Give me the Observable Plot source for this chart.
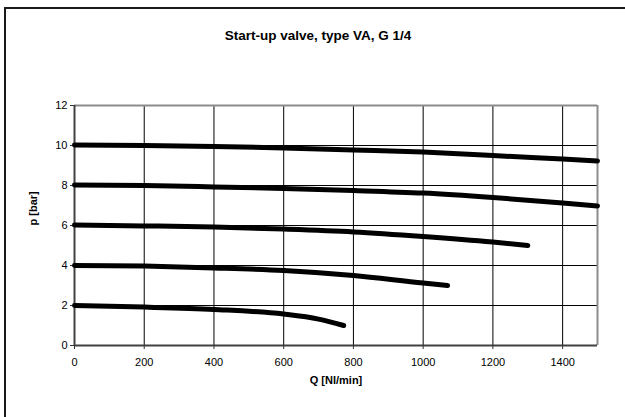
<!DOCTYPE html>
<html>
<head>
<meta charset="utf-8">
<script src="https://cdn.jsdelivr.net/npm/d3@7"></script>
<script src="https://cdn.jsdelivr.net/npm/@observablehq/plot@0.6"></script>
<style>
  html, body { margin: 0; padding: 0; background: #fff; overflow: hidden; }
  #wrap { position: relative; width: 625px; height: 417px; overflow: hidden; }
  #frame { position: absolute; left: 4px; top: 7px; width: 700px; height: 500px;
           border-top: 2px solid #1a1a1a; border-left: 2px solid #1a1a1a; }
  #chart { position: absolute; left: 0; top: 0; }
</style>
</head>
<body>
<div id="wrap"><div id="frame"></div><div id="chart"></div></div>
<script>
const title = "Start-up valve, type VA, G 1/4";
const xLabel = "Q [Nl/min]";
const yLabel = "p [bar]";
const xTicks = [0, 200, 400, 600, 800, 1000, 1200, 1400];
const yTicks = [0, 2, 4, 6, 8, 10, 12];

// Curves (Q in Nl/min, p in bar)
const q10 = [0, 200, 400, 600, 800, 1000, 1200, 1400, 1500];
const p10 = [10.02, 10.0, 9.95, 9.88, 9.78, 9.67, 9.5, 9.32, 9.23];
const q8 = [0, 200, 400, 600, 800, 1000, 1200, 1400, 1500];
const p8 = [8.02, 8.0, 7.93, 7.85, 7.75, 7.62, 7.4, 7.13, 6.98];
const q6 = [0, 200, 400, 600, 800, 1000, 1200, 1300];
const p6 = [6.02, 5.98, 5.92, 5.82, 5.68, 5.45, 5.17, 5.0];
const q4 = [0, 200, 400, 600, 800, 1000, 1070];
const p4 = [4.0, 3.97, 3.88, 3.75, 3.5, 3.12, 3.0];
const q2 = [0, 200, 400, 600, 700, 772];
const p2 = [2.0, 1.92, 1.8, 1.57, 1.32, 1.0];

const series = [["10", q10, p10], ["8", q8, p8], ["6", q6, p6], ["4", q4, p4], ["2", q2, p2]];
const data = series.flatMap(([s, qs, ps]) => qs.map((q, i) => ({s, q, p: ps[i]})));

const chart = Plot.plot({
  width: 625,
  height: 417,
  marginLeft: 74,
  marginRight: 28,
  marginTop: 105,
  marginBottom: 72,
  style: {fontFamily: "'Liberation Sans', Arial, sans-serif", fontSize: "11px", color: "#000", background: "transparent"},
  x: {domain: [0, 1500], label: null},
  y: {domain: [0, 12], label: null},
  marks: [
    Plot.gridX(xTicks, {stroke: "#000", strokeOpacity: 1, strokeWidth: 1}),
    Plot.gridY(yTicks, {stroke: "#000", strokeOpacity: 1, strokeWidth: 1}),
    Plot.ruleY([12], {stroke: "#8c8c8c", strokeWidth: 2}),
    Plot.ruleX([1500], {stroke: "#8c8c8c", strokeWidth: 2}),
    Plot.ruleY([0], {stroke: "#404040", strokeWidth: 2}),
    Plot.ruleX([0], {stroke: "#404040", strokeWidth: 2}),
    Plot.axisX(xTicks, {tickSize: 4, tickPadding: 9, tickFormat: d => String(d), label: null, stroke: "#333", fontSize: 11}),
    Plot.axisY(yTicks, {tickSize: 4, tickPadding: 3, tickFormat: d => String(d), label: null, stroke: "#333", fontSize: 11}),
    Plot.line(data, {x: "q", y: "p", z: "s", stroke: "#000", strokeWidth: 5, curve: "monotone-x", strokeLinecap: "round", strokeLinejoin: "round"}),
    Plot.text([xLabel], {frameAnchor: "bottom", dy: 38, fontWeight: "bold", fontSize: 11}),
    Plot.text([yLabel], {frameAnchor: "left", dx: -41, rotate: -90, fontWeight: "bold", fontSize: 11}),
    Plot.text([title], {frameAnchor: "top", dx: -18, dy: -75, fontWeight: "bold", fontSize: 13.5})
  ]
});
document.getElementById("chart").appendChild(chart);
</script>
</body>
</html>
